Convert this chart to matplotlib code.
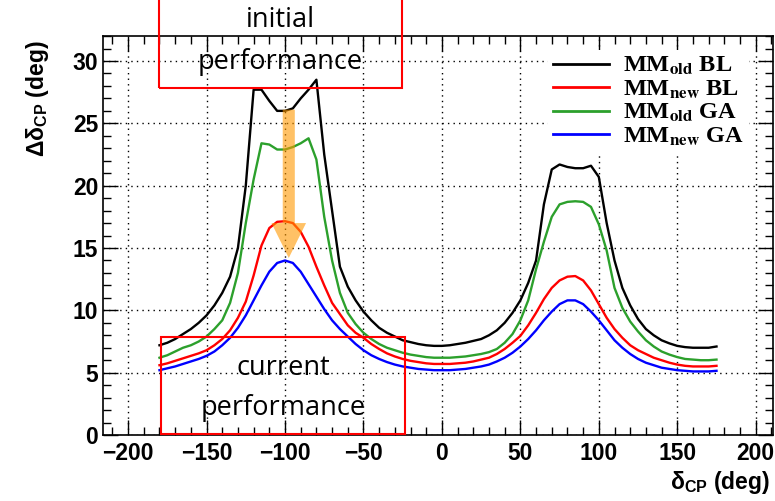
import numpy as np
import matplotlib
matplotlib.use("Agg")
import matplotlib.pyplot as plt
from matplotlib.patches import Rectangle, FancyArrow
from matplotlib.ticker import MultipleLocator

# -------------------------
# Data
# -------------------------
delta_cp = np.arange(-180, 180, 5)

mm_old_bl = [7.2, 7.4, 7.7, 8.1, 8.5, 9.0, 9.6, 10.4, 11.4, 12.7,
             15.0, 20.0, 27.7, 27.7, 26.8, 26.0, 26.0, 26.2, 27.0, 27.7,
             28.5, 22.5, 18.0, 13.5, 11.9, 10.8, 9.9, 9.2, 8.6, 8.2,
             7.9, 7.6, 7.45, 7.3, 7.2, 7.15, 7.15, 7.2, 7.3, 7.4,
             7.55, 7.7, 8.0, 8.4, 9.0, 9.8, 10.8, 12.2, 14.0, 18.5,
             21.3, 21.7, 21.5, 21.4, 21.4, 21.6, 20.7, 17.0, 14.0, 11.8,
             10.4, 9.3, 8.5, 8.0, 7.6, 7.35, 7.15, 7.05, 7.0, 7.0,
             7.0, 7.1]

mm_new_bl = [5.6, 5.75, 5.95, 6.15, 6.35, 6.55, 6.8, 7.2, 7.7, 8.4,
             9.4, 10.7, 12.8, 15.2, 16.6, 17.1, 17.15, 17.0, 16.3, 15.1,
             13.5, 12.0, 10.6, 9.7, 8.8, 8.2, 7.8, 7.3, 6.9, 6.55,
             6.3, 6.1, 5.95, 5.85, 5.75, 5.7, 5.7, 5.7, 5.75, 5.8,
             5.9, 6.05, 6.2, 6.5, 6.9, 7.4, 7.95, 8.8, 9.8, 10.9,
             11.8, 12.4, 12.7, 12.75, 12.4, 11.6, 10.5, 9.4, 8.5, 7.8,
             7.2, 6.8, 6.5, 6.2, 6.0, 5.8, 5.65, 5.55, 5.5, 5.5,
             5.5, 5.55]

mm_old_ga = [6.2, 6.4, 6.7, 7.0, 7.2, 7.5, 7.9, 8.5, 9.2, 10.6,
             13.0, 17.0, 20.5, 23.4, 23.3, 22.9, 22.9, 23.1, 23.4, 23.8,
             22.1, 17.5, 14.0, 11.4, 9.8, 8.9, 8.2, 7.7, 7.3, 7.0,
             6.8, 6.6, 6.45, 6.35, 6.25, 6.2, 6.2, 6.2, 6.25, 6.3,
             6.4, 6.5, 6.65, 6.9, 7.4, 8.1, 9.2, 10.8, 13.3, 15.5,
             17.5, 18.5, 18.7, 18.75, 18.7, 18.3, 16.9, 14.8, 11.8, 10.2,
             9.1, 8.3, 7.6, 7.1, 6.7, 6.45, 6.25, 6.1, 6.05, 6.0,
             6.0, 6.05]

mm_new_ga = [5.2, 5.35, 5.5, 5.7, 5.9, 6.1, 6.35, 6.7, 7.2, 7.8,
             8.6, 9.6, 10.8, 12.0, 13.1, 13.8, 14.0, 13.8, 13.1, 12.1,
             11.1, 10.1, 9.2, 8.5, 7.9, 7.3, 6.8, 6.4, 6.1, 5.85,
             5.65, 5.5, 5.4, 5.3, 5.25, 5.2, 5.2, 5.2, 5.25, 5.3,
             5.4, 5.5, 5.65, 5.9, 6.2, 6.6, 7.1, 7.7, 8.4, 9.2,
             9.9, 10.5, 10.8, 10.8, 10.5, 9.9, 9.2, 8.4, 7.6, 7.0,
             6.5, 6.1, 5.8, 5.6, 5.4, 5.3, 5.2, 5.15, 5.1, 5.1,
             5.1, 5.15]

series_labels = ["MM$_{\\mathbf{old}}$ BL", "MM$_{\\mathbf{new}}$ BL",
                 "MM$_{\\mathbf{old}}$ GA", "MM$_{\\mathbf{new}}$ GA"]
series_colors = ["black", "red", "#2ca02c", "blue"]

x_ticks = [-200, -150, -100, -50, 0, 50, 100, 150, 200]
y_ticks = [0, 5, 10, 15, 20, 25, 30]

# -------------------------
# Figure
# -------------------------
plt.rcParams["mathtext.fontset"] = "custom"
plt.rcParams["mathtext.bf"] = "Liberation Sans:bold"
plt.rcParams["mathtext.rm"] = "Liberation Sans"

fig = plt.figure(figsize=(7.75, 5.01), dpi=100)
ax = fig.add_axes([0.1329, 0.1317, 0.8645, 0.7963])

for vals, lab, col in zip([mm_old_bl, mm_new_bl, mm_old_ga, mm_new_ga],
                          series_labels, series_colors):
    ax.plot(delta_cp, vals, color=col, lw=1.7, label=lab)

ax.set_xlim(-216, 211)
ax.set_ylim(0, 32)
ax.set_xticks(x_ticks)
ax.set_yticks(y_ticks)
ax.set_xticklabels([str(v).replace("-", "\u2212") for v in x_ticks])
ax.xaxis.set_minor_locator(MultipleLocator(10))
ax.yaxis.set_minor_locator(MultipleLocator(1))
ax.tick_params(which="both", direction="in", top=True, right=True,
               labelsize=16.5, width=1)
ax.tick_params(which="major", length=11)
ax.tick_params(which="minor", length=6)
for lbl in ax.get_xticklabels() + ax.get_yticklabels():
    lbl.set_fontfamily("Liberation Sans")
    lbl.set_fontweight("bold")
ax.tick_params(axis="x", pad=5)
ax.grid(True, which="major", ls=(0, (1, 3)), color="black", lw=1)
for s in ax.spines.values():
    s.set_linewidth(1.2)

ax.set_xlabel("\u03b4$_{\\mathbf{CP}}$ (deg)", fontsize=16.5, fontweight="bold",
              fontfamily="Liberation Sans", loc="right")
ax.set_ylabel("\u0394\u03b4$_{\\mathbf{CP}}$ (deg)", fontsize=16.5, fontweight="bold",
              fontfamily="Liberation Sans", loc="top")
ax.xaxis.set_label_coords(0.995, -0.085)
ax.yaxis.set_label_coords(-0.078, 0.99)

# legend (ROOT style, Times bold, white fill without border)
leg = ax.legend(loc="upper right", bbox_to_anchor=(0.982, 0.995), frameon=True,
                fancybox=False, framealpha=1, facecolor="white", edgecolor="none",
                borderpad=0.2, handlelength=2.3, labelspacing=0.05,
                handletextpad=0.6,
                prop={"family": "Liberation Serif", "weight": "bold", "size": 17.5})
for t in leg.get_texts():
    t.set_math_fontfamily("stix")
for h in leg.get_lines():
    h.set_linewidth(2)

# annotation boxes
box_kw = dict(fill=False, edgecolor="red", lw=1.5, clip_on=False, zorder=5)
ax.add_patch(Rectangle((-180.5, 27.85), 155, 8.5, **box_kw))
ax.add_patch(Rectangle((-179.0, 0.1), 155.4, 7.8, **box_kw))

txt_kw = dict(ha="center", va="center", fontsize=19.5, fontfamily="Open Sans",
              zorder=6, clip_on=False)
ax.text(-103, 33.3, "initial", **txt_kw)
ax.text(-103, 29.9, "performance", **txt_kw)
ax.text(-101, 5.35, "current", **txt_kw)
ax.text(-101, 2.2, "performance", **txt_kw)

# orange arrow
ax.add_patch(FancyArrow(-97.6, 26.1, 0, -11.9, width=7.7, head_width=22,
                        head_length=2.8, length_includes_head=True,
                        color="#ff9900", alpha=0.6, lw=0, zorder=4))

fig.savefig("out.png", dpi=100)
